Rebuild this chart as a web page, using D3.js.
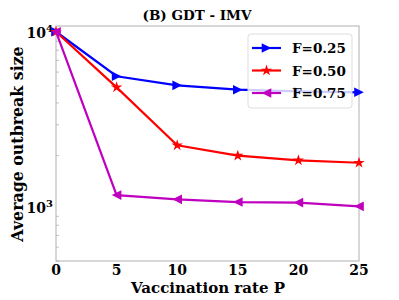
<!DOCTYPE html>
<html>
<head>
<script src="https://d3js.org/d3.v7.min.js"></script>
<style>
  body { margin:0; background:#fff; }
  text { font-family:"DejaVu Serif", serif; font-weight:bold; }
</style>
</head>
<body>
<script>
// data
var rates = [0, 5, 10, 15, 20, 25];
var f25 = [10200, 5680, 5040, 4760, 4650, 4600];
var f50 = [10200, 4910, 2290, 2000, 1880, 1820];
var f75 = [10200, 1190, 1125, 1086, 1078, 1026];
var seriesNames = ["F=0.25", "F=0.50", "F=0.75"];
var xTicks = [0, 5, 10, 15, 20, 25];
var yMajor = [1000, 10000];

var series = [
  {name: seriesNames[0], vals: f25, color: "#0000ff", mark: "right"},
  {name: seriesNames[1], vals: f50, color: "#ff0000", mark: "star"},
  {name: seriesNames[2], vals: f75, color: "#bf00bf", mark: "left"}
];

var svg = d3.select("body").append("svg")
    .attr("width", 399).attr("height", 300);

var x = d3.scaleLinear().domain([0, 25]).range([56, 359]);
var y = d3.scaleLog().domain([500, 11000]).range([261, 26]);

// minor ticks (inside)
var minors = [500,600,700,800,900,2000,3000,4000,5000,6000,7000,8000,9000];
svg.selectAll(".minor").data(minors).enter().append("line")
   .attr("x1", 56).attr("x2", 59)
   .attr("y1", function(d){ return y(d); }).attr("y2", function(d){ return y(d); })
   .style("stroke", "#b0b0b0").style("stroke-width", 0.8);

// frame
svg.append("rect")
   .attr("x", 56).attr("y", 26)
   .attr("width", 303).attr("height", 235)
   .style("fill", "none").style("stroke", "#b0b0b0").style("stroke-width", 1);

// x tick labels
svg.selectAll(".xt").data(xTicks).enter().append("text")
   .attr("x", function(d){ return x(d); })
   .attr("y", 275)
   .attr("text-anchor", "middle")
   .style("font-size", "14px")
   .text(function(d){ return d; });

// y tick labels 10^3, 10^4
yMajor.forEach(function(v){
  var t = svg.append("text")
     .attr("x", 53).attr("y", y(v) + 5)
     .attr("text-anchor", "end")
     .style("font-size", "14px");
  t.append("tspan").text("10");
  t.append("tspan").attr("dy", -6).style("font-size", "10px").text(Math.round(Math.log10(v)));
});

// title and axis labels
svg.append("text").attr("x", 197).attr("y", 20)
   .attr("text-anchor", "middle").style("font-size", "13.5px")
   .text("(B) GDT - IMV");
svg.append("text").attr("x", 208).attr("y", 293)
   .attr("text-anchor", "middle").style("font-size", "15px")
   .text("Vaccination rate P");
svg.append("text")
   .attr("transform", "translate(23,144) rotate(-90)")
   .attr("text-anchor", "middle").style("font-size", "15.8px")
   .text("Average outbreak size");

function marker(g, type, color, cx, cy) {
  if (type == "star") {
    g.append("path")
     .attr("d", d3.symbol().type(d3.symbolStar).size(40)())
     .attr("transform", "translate(" + cx + "," + cy + ")")
     .style("fill", color);
  } else {
    var s = 4.8;
    var pts = type == "right"
      ? [[-s, -s], [s, 0], [-s, s]]
      : [[s, -s], [-s, 0], [s, s]];
    g.append("polygon")
     .attr("points", pts.map(function(p){ return (cx + p[0]) + "," + (cy + p[1]); }).join(" "))
     .style("fill", color);
  }
}

var line = d3.line()
   .x(function(d, i){ return x(rates[i]); })
   .y(function(d){ return y(d); });

series.forEach(function(s){
  var g = svg.append("g");
  g.append("path").datum(s.vals)
   .attr("d", line)
   .style("fill", "none").style("stroke", s.color).style("stroke-width", 2.2);
  s.vals.forEach(function(v, i){
    marker(g, s.mark, s.color, x(rates[i]), y(v));
  });
});

// legend
var lg = svg.append("g");
lg.append("rect")
  .attr("x", 248).attr("y", 34).attr("width", 104).attr("height", 74).attr("rx", 3)
  .style("fill", "#fff").style("fill-opacity", 0.8)
  .style("stroke", "#dddddd").style("stroke-width", 1);
series.forEach(function(s, i){
  var ly = 48 + i * 22.5;
  lg.append("line").attr("x1", 252).attr("x2", 281).attr("y1", ly).attr("y2", ly)
    .style("stroke", s.color).style("stroke-width", 2.2);
  marker(lg, s.mark, s.color, 266.5, ly);
  lg.append("text").attr("x", 292).attr("y", ly + 5)
    .style("font-size", "13.5px").text(s.name);
});
</script>
</body>
</html>
